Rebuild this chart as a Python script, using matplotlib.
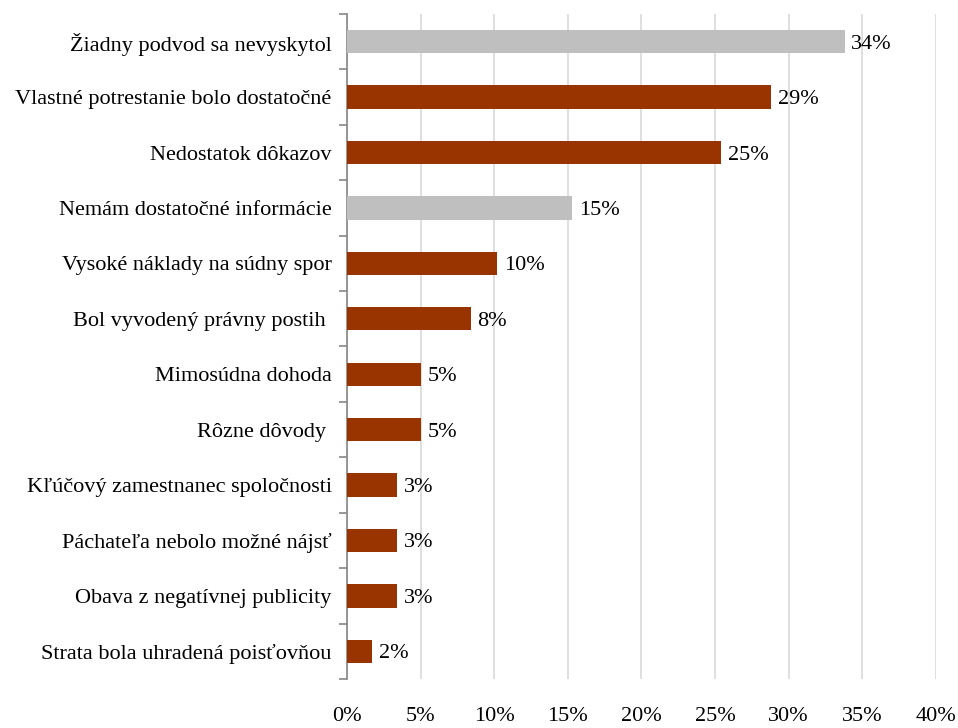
import matplotlib
matplotlib.use("Agg")
from matplotlib import pyplot as plt
import numpy as np

categories = [
    "Žiadny podvod sa nevyskytol",
    "Vlastné potrestanie bolo dostatočné",
    "Nedostatok dôkazov",
    "Nemám dostatočné informácie",
    "Vysoké náklady na súdny spor",
    "Bol vyvodený právny postih ",
    "Mimosúdna dohoda",
    "Rôzne dôvody ",
    "Kľúčový zamestnanec spoločnosti",
    "Páchateľa nebolo možné nájsť",
    "Obava z negatívnej publicity",
    "Strata bola uhradená poisťovňou",
]
values = [33.8, 28.8, 25.4, 15.3, 10.2, 8.4, 5.0, 5.0, 3.4, 3.4, 3.4, 1.7]
is_gray = [True, False, False, True, False, False, False, False, False, False, False, False]
xticks = [0, 5, 10, 15, 20, 25, 30, 35, 40]

plt.rcParams['font.family'] = ['Liberation Serif', 'DejaVu Serif']

fig = plt.figure(figsize=(9.58, 7.28), dpi=100)
ax = fig.add_axes([0.3622, 0.0673, 0.977 - 0.3622, 0.9808 - 0.0673])

n = len(categories)
y = np.arange(n)
colors = ['#bfbfbf' if g else '#993300' for g in is_gray]
ax.barh(y, values, height=0.42, color=colors, zorder=3)

# data labels next to each bar end
for yi, v in zip(y, values):
    ax.text(v + 0.45, yi, f"{round(v):.0f}%", va='center_baseline', ha='left',
            fontsize=16, zorder=4)

ax.set_ylim(n - 0.5, -0.5)
ax.set_xlim(0, 40)
ax.set_xticks(xticks)
ax.set_xticklabels([f"{t}%" for t in xticks], fontsize=16)
ax.tick_params(axis='x', length=0, pad=20)

ax.set_yticks(y)
ax.set_yticklabels(categories, fontsize=16)
ax.set_yticks(np.arange(n + 1) - 0.5, minor=True)
ax.tick_params(axis='y', which='major', length=0, pad=11)
ax.tick_params(axis='y', which='minor', length=6, color='#868686', width=1.2)

ax.xaxis.grid(True, color='#d9d9d9', linewidth=1.2, zorder=0)
for s in ['top', 'right', 'bottom']:
    ax.spines[s].set_visible(False)
ax.spines['left'].set_color('#868686')
ax.spines['left'].set_linewidth(1.2)

fig.savefig('out.png', dpi=100)
